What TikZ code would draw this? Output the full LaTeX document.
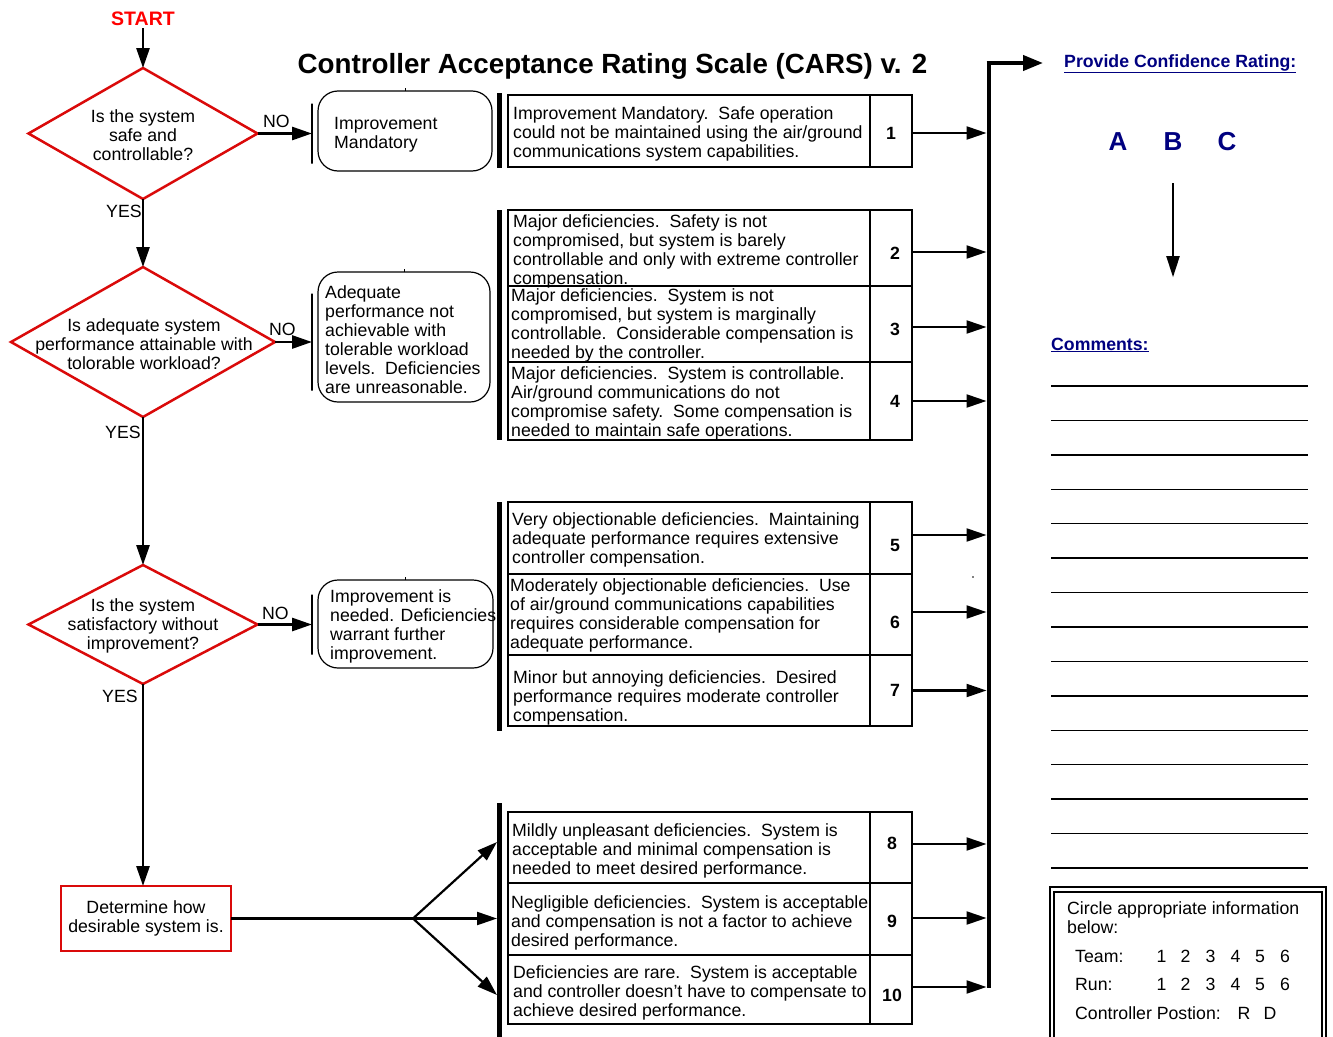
\documentclass[tikz,border=0pt]{standalone}
\usepackage{fontspec}
\setmainfont{Liberation Sans}
\usetikzlibrary{arrows.meta,shapes.geometric}
\definecolor{cred}{RGB}{218,10,10}
\definecolor{navy}{RGB}{0,0,128}
\newcommand{\fs}{\fontsize{17.7}{19}\selectfont}
\begin{document}
\begin{tikzpicture}[x=1pt,y=-1pt,
  txt/.style={font=\fs, inner sep=0, anchor=base west, align=left},
  ctxt/.style={font=\fs, inner sep=0, anchor=base, align=center},
  dia/.style={diamond, draw=cred, line width=2.5pt, inner sep=0, outer sep=0},
  rbox/.style={draw, line width=1.2pt, rounded corners=20pt, inner sep=0, outer sep=0, anchor=north west},
  cell/.style={draw, line width=1.5pt, inner sep=0, outer sep=0, anchor=north west},
  gbar/.style={fill, inner sep=0, outer sep=0, minimum width=5pt, anchor=north west},
  vline/.style={draw, line width=1.2pt, inner sep=0, outer sep=0, minimum width=0pt},
  num/.style={font=\fs\bfseries, inner sep=0},
  flow/.style={line width=2.8pt, -{Triangle[length=20pt,width=13pt]}},
  arr/.style={line width=2.2pt, -{Triangle[length=20pt,width=13pt]}},
  tick/.style={line width=1pt}
]
\useasboundingbox (0,0) rectangle (1333,1036);

% title and start
\node[font=\fontsize{27.75}{30}\selectfont\bfseries, anchor=base, inner sep=0] (title) at (612.5,73) {Controller Acceptance Rating Scale (CARS) v. 2};
\node[font=\fontsize{19.5}{22}\selectfont\bfseries, text=red, anchor=base, inner sep=0] (start) at (143,25) {START};

% diamonds (text anchored at baseline of last line)
\node[dia, minimum width=229pt, minimum height=131pt] (d1) at (143,133.5) {};
\node[ctxt] (d1t) at (143,160) {Is the system\\safe and\\controllable?};
\node[dia, minimum width=264pt, minimum height=150pt] (d2) at (143,342) {};
\node[ctxt] (d2t) at (144,369) {Is adequate system\\performance attainable with\\tolorable workload?};
\node[dia, minimum width=229pt, minimum height=119pt] (d3) at (143,624.5) {};
\node[ctxt] (d3t) at (143,649.5) {Is the system\\satisfactory without\\improvement?};

\node[draw=cred, line width=2.5pt, minimum width=170pt, minimum height=65pt, inner sep=0, outer sep=0, font=\fs, align=center] (det) at (146,918.5) {Determine how\\desirable system is.};

% labels
\node[txt] (no1) at (263,127) {NO};
\node[txt] (no2) at (269,335) {NO};
\node[txt] (no3) at (262,619) {NO};
\node[txt] (yes1) at (106,217) {YES};
\node[txt] (yes2) at (105,438) {YES};
\node[txt] (yes3) at (102,702) {YES};

% rounded boxes
\node[rbox, minimum width=174pt, minimum height=80pt] (b1) at (318,91) {};
\node[txt] (b1t) at (334,148) {Improvement\\Mandatory};
\node[rbox, minimum width=172pt, minimum height=130pt] (b2) at (318,272) {};
\node[txt] (b2t) at (325,393.5) {Adequate\\performance not\\achievable with\\tolerable workload\\levels.\ \ Deficiencies\\are unreasonable.};
\node[rbox, minimum width=175pt, minimum height=88pt] (b3) at (318,580) {};
\node[txt] (b3t) at (330,659) {Improvement is\\needed. Deficiencies\\warrant further\\improvement.};
\draw[tick] (b1.north) -- ++(0,-3);
\draw[tick] (b2.north) -- ++(0,-3);
\draw[tick] (b3.north) -- ++(0,-3);

\node[vline, minimum height=60pt] (v1) at (312,133.5) {};
\node[vline, minimum height=97pt] (v2) at (312,342) {};
\node[vline, minimum height=60pt] (v3) at (312,624.5) {};

% flow connectors
\draw[flow] ([yshift=-3pt]start.south) -- (d1.north);
\draw[flow] (d1.south) -- (d2.north);
\draw[flow] (d2.south) -- (d3.north);
\draw[flow] (d3.south) -- (d3.south |- det.north);
\draw[flow] (d1.east) -- (d1.east -| v1.west);
\draw[flow] (d2.east) -- (d2.east -| v2.west);
\draw[flow] (d3.east) -- (d3.east -| v3.west);

% group bars
\node[gbar, minimum height=75pt] (g1) at (497,93) {};
\node[gbar, minimum height=230pt] (g2) at (497,210) {};
\node[gbar, minimum height=229pt] (g3) at (497,502) {};
\node[gbar, minimum height=240pt] (g4) at (497,803) {};

% rating cells
\node[cell, minimum width=362pt, minimum height=72pt] (c1) at (508,95) {};
\node[cell, minimum width=42pt, minimum height=72pt] (n1) at (870,95) {};
\node[cell, minimum width=362pt, minimum height=76pt] (c2) at (508,210) {};
\node[cell, minimum width=42pt, minimum height=76pt] (n2) at (870,210) {};
\node[cell, minimum width=362pt, minimum height=76pt] (c3) at (508,286) {};
\node[cell, minimum width=42pt, minimum height=76pt] (n3) at (870,286) {};
\node[cell, minimum width=362pt, minimum height=78pt] (c4) at (508,362) {};
\node[cell, minimum width=42pt, minimum height=78pt] (n4) at (870,362) {};
\node[cell, minimum width=362pt, minimum height=72pt] (c5) at (508,502) {};
\node[cell, minimum width=42pt, minimum height=72pt] (n5) at (870,502) {};
\node[cell, minimum width=362pt, minimum height=81pt] (c6) at (508,574) {};
\node[cell, minimum width=42pt, minimum height=81pt] (n6) at (870,574) {};
\node[cell, minimum width=362pt, minimum height=71pt] (c7) at (508,655) {};
\node[cell, minimum width=42pt, minimum height=71pt] (n7) at (870,655) {};
\node[cell, minimum width=362pt, minimum height=71pt] (c8) at (508,812) {};
\node[cell, minimum width=42pt, minimum height=71pt] (n8) at (870,812) {};
\node[cell, minimum width=362pt, minimum height=72pt] (c9) at (508,883) {};
\node[cell, minimum width=42pt, minimum height=72pt] (n9) at (870,883) {};
\node[cell, minimum width=362pt, minimum height=69pt] (c10) at (508,955) {};
\node[cell, minimum width=42pt, minimum height=69pt] (n10) at (870,955) {};

% numbers
\node[num] (k1) at (891,133) {1};
\node[num] (k2) at (895,253) {2};
\node[num] (k3) at (895,329) {3};
\node[num] (k4) at (895,401) {4};
\node[num] (k5) at (895,545) {5};
\node[num] (k6) at (895,622) {6};
\node[num] (k7) at (895,690) {7};
\node[num] (k8) at (892,843) {8};
\node[num] (k9) at (892,921) {9};
\node[num] (k10) at (892,995) {10};

% rating texts (anchored at baseline of last line)
\node[txt] (t1) at (513,157) {Improvement Mandatory.\ \ Safe operation\\could not be maintained using the air/ground\\communications system capabilities.};
\node[txt] (t2) at (513,284) {Major deficiencies.\ \ Safety is not\\compromised, but system is barely\\controllable and only with extreme controller\\compensation.};
\node[txt] (t3) at (511,358) {Major deficiencies.\ \ System is not\\compromised, but system is marginally\\controllable.\ \ Considerable compensation is\\needed by the controller.};
\node[txt] (t4) at (511,436) {Major deficiencies.\ \ System is controllable.\\Air/ground communications do not\\compromise safety.\ \ Some compensation is\\needed to maintain safe operations.};
\node[txt] (t5) at (512,563) {Very objectionable deficiencies.\ \ Maintaining\\adequate performance requires extensive\\controller compensation.};
\node[txt] (t6) at (510,648) {Moderately objectionable deficiencies.\ \ Use\\of air/ground communications capabilities\\requires considerable compensation for\\adequate performance.};
\node[txt] (t7) at (513,721) {Minor but annoying deficiencies.\ \ Desired\\performance requires moderate controller\\compensation.};
\node[txt] (t8) at (512,874) {Mildly unpleasant deficiencies.\ \ System is\\acceptable and minimal compensation is\\needed to meet desired performance.};
\node[txt] (t9) at (511,946) {Negligible deficiencies.\ \ System is acceptable\\and compensation is not a factor to achieve\\desired performance.};
\node[txt] (t10) at (513,1016) {Deficiencies are rare.\ \ System is acceptable\\and controller doesn’t have to compensate to\\achieve desired performance.};

% right collecting bar
\node[fill, inner sep=0, outer sep=0, minimum width=4pt, minimum height=927pt, anchor=north] (rbar) at (988.5,61) {};
\coordinate (crtip) at (1043,63);
\draw[line width=4pt, -{Triangle[length=20pt,width=15pt]}] (rbar.north west |- crtip) -- (crtip);

\draw[arr] ([yshift=-2pt]n1.east) -- ([yshift=-2pt]n1.east -| rbar.west);
\draw[arr] ([yshift=-4pt]n2.east) -- ([yshift=-4pt]n2.east -| rbar.west);
\draw[arr] ([yshift=-3pt]n3.east) -- ([yshift=-3pt]n3.east -| rbar.west);
\draw[arr] (n4.east) -- (n4.east -| rbar.west);
\draw[arr] ([yshift=3pt]n5.east) -- ([yshift=3pt]n5.east -| rbar.west);
\draw[arr] ([yshift=2.5pt]n6.east) -- ([yshift=2.5pt]n6.east -| rbar.west);
\draw[arr] (n7.east) -- (n7.east -| rbar.west);
\draw[arr] ([yshift=3.5pt]n8.east) -- ([yshift=3.5pt]n8.east -| rbar.west);
\draw[arr] ([yshift=1pt]n9.east) -- ([yshift=1pt]n9.east -| rbar.west);
\draw[arr] ([yshift=2.5pt]n10.east) -- ([yshift=2.5pt]n10.east -| rbar.west);

% fork from determine box
\coordinate (fork) at (413,918.5);
\draw[line width=2.2pt] (det.east) -- (fork);
\draw[arr] (fork) -- ([yshift=5.5pt]c8.west -| g4.west);
\draw[arr] (fork) -- (fork -| g4.west);
\draw[arr] (fork) -- ([yshift=-5.5pt]c10.west -| g4.west);

\fill (973,577) circle (0.8pt);

% right side
\node[font=\fontsize{17.7}{20}\selectfont\bfseries, text=navy, anchor=base west, inner sep=0] (pcr) at (1064,67) {\underline{Provide Confidence Rating:}};
\node[font=\fontsize{26}{28}\selectfont\bfseries, text=navy, anchor=base, inner sep=0] (A) at (1118,150) {A};
\node[font=\fontsize{26}{28}\selectfont\bfseries, text=navy, anchor=base, inner sep=0] (B) at (1173,150) {B};
\node[font=\fontsize{26}{28}\selectfont\bfseries, text=navy, anchor=base, inner sep=0] (C) at (1227,150) {C};
\draw[line width=2pt, -{Triangle[length=21pt,width=13pt]}] ([yshift=-33pt]B.south) -- ([yshift=-127pt]B.south);
\node[font=\fontsize{17.7}{20}\selectfont\bfseries, text=navy, anchor=base west, inner sep=0] (com) at (1051,350) {\underline{Comments:}};
\foreach \i in {0,...,14} {
  \pgfmathsetmacro{\yy}{386+34.43*\i}
  \draw[line width=1.5pt] (1051,\yy) -- (1308,\yy);
}

% info box
\draw[line width=2pt] (1050,1045) -- (1050,887) -- (1326,887) -- (1326,1045);
\draw[line width=2pt] (1054,1045) -- (1054,892) -- (1322,892) -- (1322,1045);
\node[txt] (ci) at (1067,933) {Circle appropriate information\\below:};
\node[txt] (team) at (1075,962) {Team:};
\node[txt] (run) at (1075,990.5) {Run:};
\node[txt] (cpos) at (1075,1019) {Controller Postion:};
\foreach \n/\x in {1/1161.5,2/1185.5,3/1210.5,4/1235.5,5/1260,6/1285} {
  \node[ctxt] at (\x,962) {\n};
  \node[ctxt] at (\x,990.5) {\n};
}
\node[ctxt] (pr) at (1244,1019) {R};
\node[ctxt] (pd) at (1270,1019) {D};
\end{tikzpicture}
\end{document}
